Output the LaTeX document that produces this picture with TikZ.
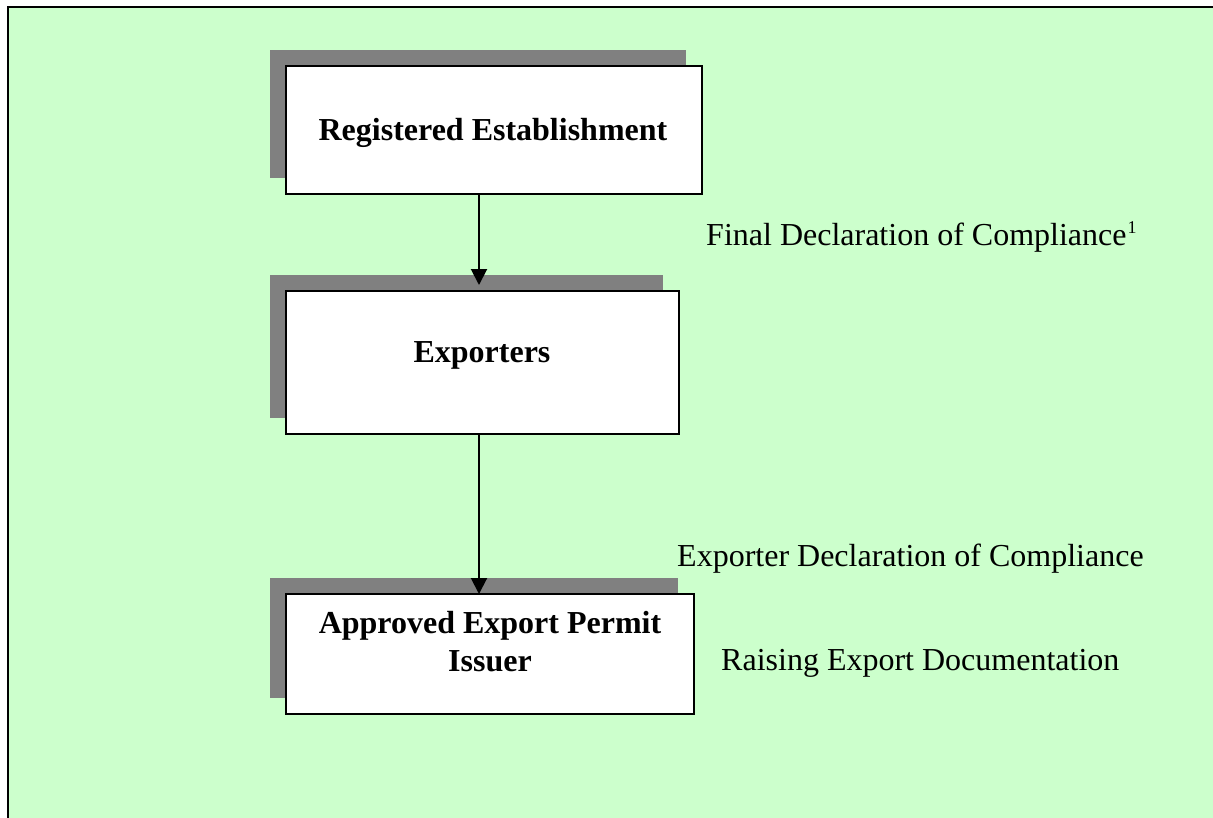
\documentclass[tikz,border=0pt]{standalone}
\usepackage{fontspec}
\setmainfont{Liberation Serif}
\usetikzlibrary{shadows,arrows.meta}
\definecolor{bggreen}{HTML}{CCFFCC}
\definecolor{shadowgray}{HTML}{808080}
\tikzset{
  flowbox/.style={draw=black, line width=2pt, fill=white, inner sep=0pt,
    general shadow={fill=shadowgray, shadow xshift=-16pt, shadow yshift=16pt}},
  boxtext/.style={font=\fontsize{32}{38}\selectfont\bfseries, align=center, inner sep=0pt},
  steplabel/.style={font=\fontsize{32}{38}\selectfont, anchor=west, inner sep=0pt},
  flowarrow/.style={draw=black, line width=2pt, -{Triangle[length=16pt,width=16pt]}},
}
\begin{document}
\begin{tikzpicture}[x=1pt,y=-1pt]
\useasboundingbox (0,0) rectangle (1213,817);
\begin{scope}
\clip (0,0) rectangle (1213,817);
\fill[bggreen] (8,7) rectangle (1230,830);
\draw[black, line width=2.5pt] (8,830) -- (8,7) -- (1230,7);
\end{scope}

\node[flowbox, minimum width=416pt, minimum height=128pt] (b1) at (494,130) {};
\node[boxtext] (t1) at (493,133) {Registered Establishment};

\node[flowbox, minimum width=393pt, minimum height=143pt] (b2) at (482.5,362.5) {};
\node[boxtext] (t2) at (482,355) {Exporters};

\node[flowbox, minimum width=408pt, minimum height=120pt] (b3) at (490,654) {};
\node[boxtext, anchor=north] (t3) at (490,611) {Approved Export Permit\\Issuer};

\coordinate (a1s) at (479,194);
\coordinate (a1e) at (479,285);
\coordinate (a2s) at (479,434);
\coordinate (a2e) at (479,594);
\draw[flowarrow] (a1s) -- (a1e);
\draw[flowarrow] (a2s) -- (a2e);

\node[steplabel] (l1) at (706,237) {Final Declaration of Compliance\hspace{1pt}\raisebox{12pt}{\fontsize{18}{18}\selectfont 1}};
\node[steplabel] (l2) at (677,559) {Exporter Declaration of Compliance};
\node[steplabel] (l3) at (721,663) {Raising Export Documentation};
\end{tikzpicture}
\end{document}
